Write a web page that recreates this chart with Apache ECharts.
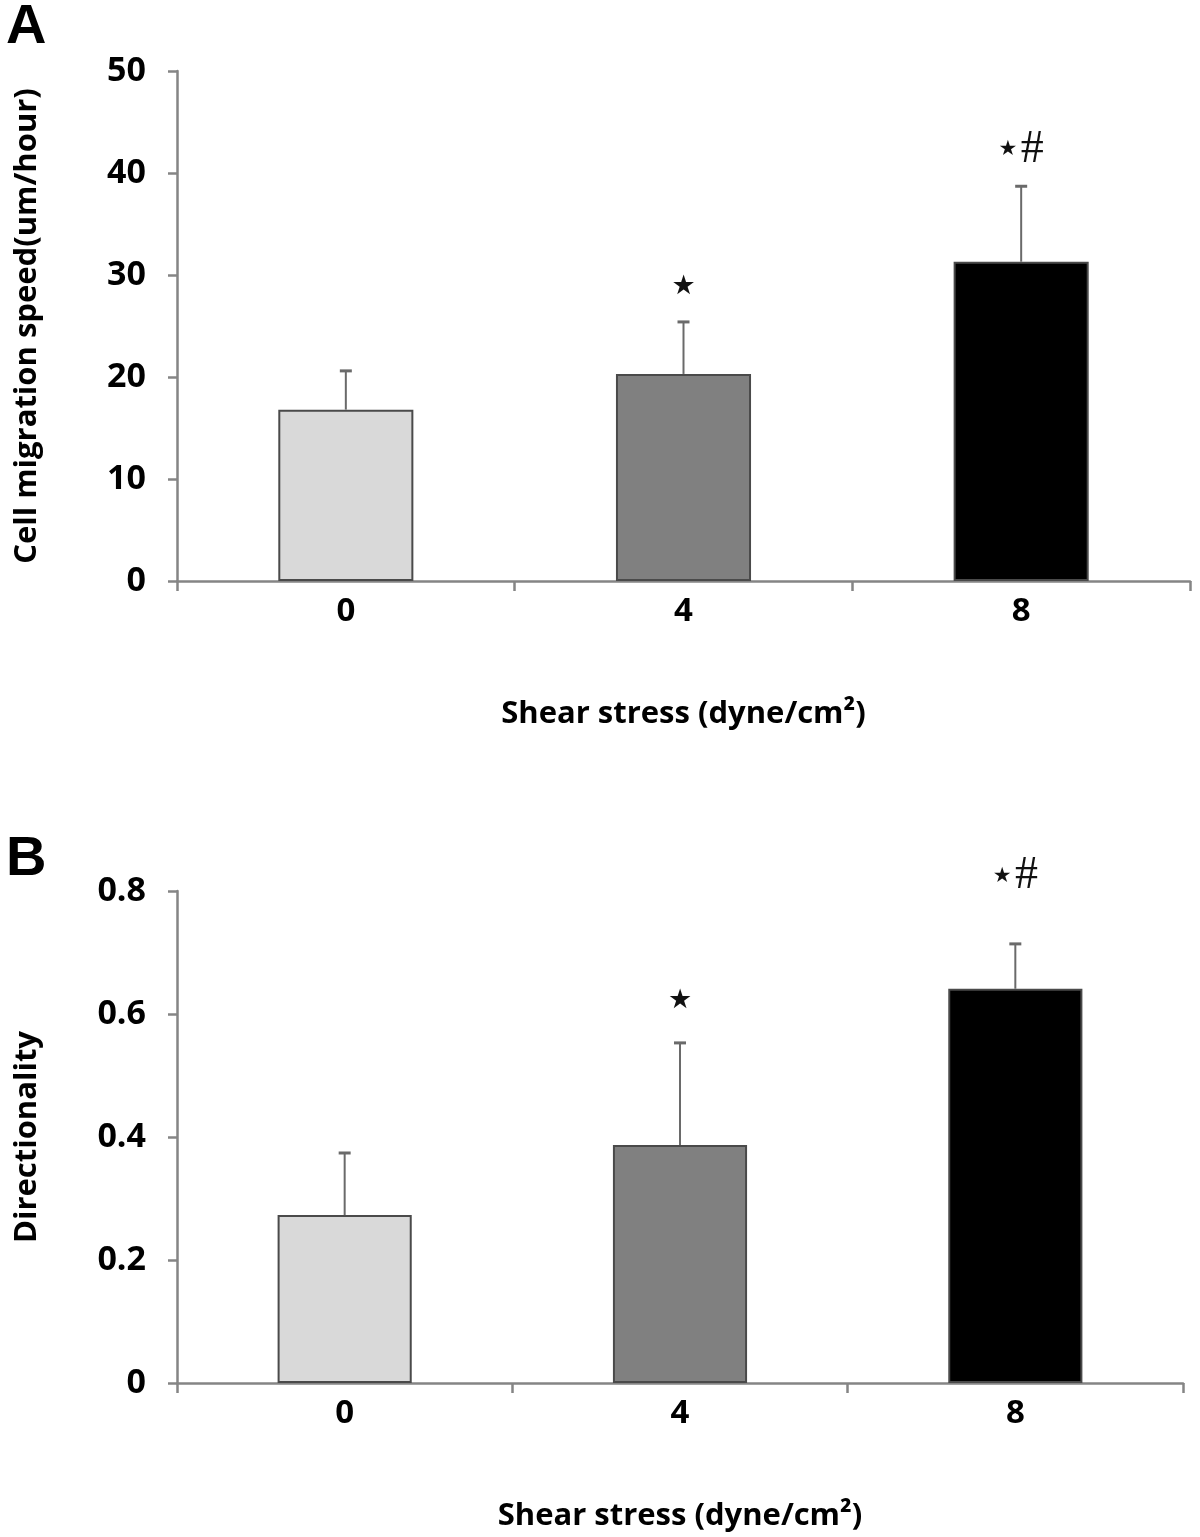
<!DOCTYPE html>
<html><head><meta charset="utf-8">
<script src="https://cdn.jsdelivr.net/npm/echarts@6/dist/echarts.min.js"></script>
<style>html,body{margin:0;padding:0;background:#fff}#c{width:1200px;height:1537px}</style>
</head><body><div id="c"></div>
<script>
// ---- data ----
const categories = ['0', '4', '8'];
const speedMean = [16.8, 20.3, 31.3];
const speedErrTop = [20.6, 25.4, 38.7];
const speedMarks = ['', 'star', 'starhash'];
const speedMarkY = [null, 28.8, 42.3];
const dirMean = [0.273, 0.387, 0.641];
const dirErrTop = [0.374, 0.553, 0.714];
const dirMarks = ['', 'star', 'starhash'];
const dirMarkY = [null, 0.621, 0.824];
const barColors = ['#d9d9d9', '#808080', '#000000'];

const FONT = '"Open Sans", "Noto Sans", sans-serif';
const AXIS_COLOR = '#858585';

function xAxisCfg(gi) {
  return {
    type: 'category', gridIndex: gi, data: categories, boundaryGap: true,
    axisLine: { lineStyle: { color: AXIS_COLOR, width: 2.5 } },
    axisTick: { show: true, inside: false, length: 10, alignWithLabel: false, lineStyle: { color: AXIS_COLOR, width: 2.5 } },
    axisLabel: { color: '#000', fontSize: 33, fontWeight: 'bold', fontFamily: FONT, margin: 14 },
    name: 'Shear stress (dyne/cm²)', nameLocation: 'middle', nameGap: 118,
    nameTextStyle: { color: '#000', fontSize: 31, fontWeight: 'bold', fontFamily: FONT }
  };
}
function yAxisCfg(gi, max, interval, name, gap, fmt) {
  return {
    type: 'value', gridIndex: gi, min: 0, max: max, interval: interval,
    axisLine: { show: true, lineStyle: { color: AXIS_COLOR, width: 2.5 } },
    axisTick: { show: true, inside: false, length: 9, lineStyle: { color: AXIS_COLOR, width: 2.5 } },
    splitLine: { show: false },
    axisLabel: { color: '#000', fontSize: 34, fontWeight: 'bold', fontFamily: FONT, margin: 31, formatter: fmt },
    name: name, nameLocation: 'middle', nameGap: gap,
    nameTextStyle: { color: '#000', fontSize: 31, fontWeight: 'bold', fontFamily: FONT }
  };
}
function barSeries(gi, means) {
  return {
    type: 'bar', xAxisIndex: gi, yAxisIndex: gi, barWidth: '40%', z: 2,
    data: means.map((v, i) => ({ value: v, itemStyle: { color: barColors[i], borderColor: '#4a4a4a', borderWidth: 2 } }))
  };
}
function errSeries(gi, means, tops) {
  return {
    type: 'custom', xAxisIndex: gi, yAxisIndex: gi, z: 3,
    encode: { x: 0, y: [1, 2] },
    data: means.map((m, i) => [i, m, tops[i]]),
    renderItem(params, api) {
      const p0 = api.coord([api.value(0), api.value(1)]);
      const p1 = api.coord([api.value(0), api.value(2)]);
      return { type: 'group', children: [
        { type: 'line', shape: { x1: p0[0], y1: p0[1], x2: p1[0], y2: p1[1] }, style: { stroke: '#6a6a6a', lineWidth: 2 } },
        { type: 'line', shape: { x1: p1[0] - 6, y1: p1[1], x2: p1[0] + 6, y2: p1[1] }, style: { stroke: '#6a6a6a', lineWidth: 3 } }
      ] };
    }
  };
}
const markData = [speedMarks.filter(m => m !== ''), dirMarks.filter(m => m !== '')];
function markSeries(gi, marks, ys) {
  return {
    type: 'custom', xAxisIndex: gi, yAxisIndex: gi, z: 4, clip: false,
    data: marks.map((m, i) => [i, ys[i] == null ? 0 : ys[i]]).filter((d, i) => marks[i] !== ''),
    encode: { x: 0, y: 1 },
    renderItem(params, api) {
      const p = api.coord([api.value(0), api.value(1)]);
      const kind = markData[gi][params.dataIndex];
      const txt = kind === 'star' ? '{s|★}' : '{t|★} {h|#}';
      return { type: 'text', x: p[0], y: p[1], style: {
        text: txt, align: 'center', verticalAlign: 'middle',
        rich: {
          s: { fontSize: 27, fontFamily: 'DejaVu Sans', fill: '#111' },
          t: { fontSize: 21, fontFamily: 'DejaVu Sans', fill: '#111' },
          h: { fontSize: 46, fontFamily: 'Liberation Serif', fill: '#111' }
        }
      } };
    }
  };
}

const chart = echarts.init(document.getElementById('c'), null, { renderer: 'canvas' });
chart.setOption({
  backgroundColor: '#fff',
  animation: false,
  grid: [
    { left: 177, right: 10, top: 71, height: 510 },
    { left: 177, right: 17, top: 891, height: 492 }
  ],
  xAxis: [xAxisCfg(0), xAxisCfg(1)],
  yAxis: [
    yAxisCfg(0, 50, 10, 'Cell migration speed(um/hour)', 134, v => String(v)),
    yAxisCfg(1, 0.8, 0.2, 'Directionality', 134, v => (v === 0 ? '0' : v.toFixed(1)))
  ],
  graphic: [
    { type: 'text', left: 6, top: 0, style: { text: 'A', fontSize: 56, fontWeight: 'bold', fontFamily: '"Liberation Sans", sans-serif', fill: '#000' } },
    { type: 'text', left: 6, top: 832, style: { text: 'B', fontSize: 56, fontWeight: 'bold', fontFamily: '"Liberation Sans", sans-serif', fill: '#000' } }
  ],
  series: [
    barSeries(0, speedMean), errSeries(0, speedMean, speedErrTop), markSeries(0, speedMarks, speedMarkY),
    barSeries(1, dirMean), errSeries(1, dirMean, dirErrTop), markSeries(1, dirMarks, dirMarkY)
  ]
});
</script></body></html>
